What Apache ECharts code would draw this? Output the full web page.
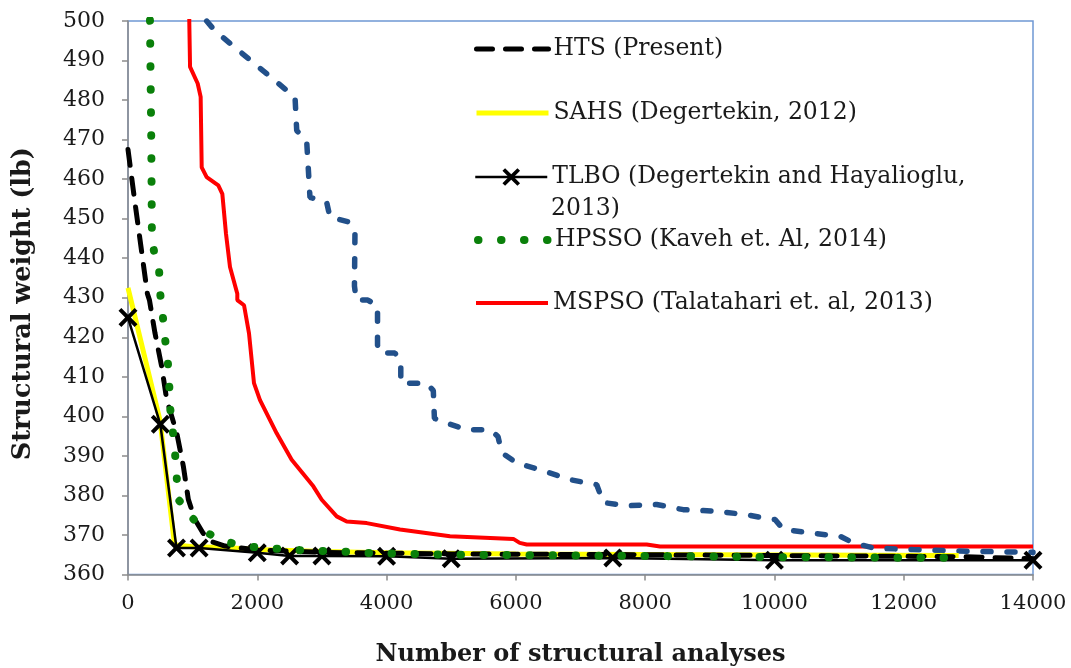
<!DOCTYPE html>
<html>
<head>
<meta charset="utf-8">
<script src="https://cdn.jsdelivr.net/npm/echarts@6/dist/echarts.min.js"></script>
<style>
html,body{margin:0;padding:0;background:#fff;}
#chart{width:1071px;height:668px;}
</style>
</head>
<body>
<div id="chart"></div>
<script>
// ---- Data (x = number of structural analyses, y = structural weight in lb) ----
const xTicks = [0, 2000, 4000, 6000, 8000, 10000, 12000, 14000];
const yTicks = [360, 370, 380, 390, 400, 410, 420, 430, 440, 450, 460, 470, 480, 490, 500];

const seriesNames = [
  'HTS (Present)',
  'SAHS (Degertekin, 2012)',
  'TLBO (Degertekin and Hayalioglu,',
  'HPSSO (Kaveh et. Al, 2014)',
  'MSPSO (Talatahari et. al, 2013)'
];
const legendContinuation = '2013)';

const htsData = [[0,467.5],[100,455],[200,443],[300,431],[332,429.4],[418,421],[521,412.6],[599,404.2],[754,395.8],[856,387.4],[933,379],[1036,373.9],[1160,370.5],[1300,368.3],[1500,367.2],[2000,366.2],[3000,365.6],[5000,365.2],[8000,365],[11000,364.7],[12900,364.5],[14000,364]];

const sahsData = [[0,432.5],[495,399],[720,367.5],[1000,367],[1500,366.8],[2000,366.3],[3000,365.8],[4000,365.5],[6000,365.2],[9000,365],[12850,364.8]];

const tlboData = [[0,425],[500,398],[750,366.7],[1100,366.7],[2000,365.5],[2500,364.7],[3000,364.7],[4000,364.6],[5000,364],[7500,364.2],[10000,363.6],[14000,363.6]];

const hpssoData = [[330,506],[340,500],[360,470],[370,445],[420,440],[480,437.5],[495,431.5],[537,425.6],[572,419.8],[615,414],[637,408.4],[650,402.4],[691,396.6],[727,390.8],[753,385],[769,379.2],[959,375.1],[1156,371.1],[1470,368.5],[1810,367.1],[2150,366.7],[2500,366.3],[2850,366],[3200,365.9],[3600,365.5],[5000,365],[8000,364.7],[10000,364.4],[12850,364.2]];

const mspsoData = [[948,502],[948,500],[960,488.4],[1078,484.2],[1124,480.8],[1140,463],[1217,460.5],[1397,458.4],[1459,456.3],[1516,446.2],[1578,437.8],[1691,431],[1691,429.4],[1795,428.1],[1872,421],[1949,408.4],[2042,404.1],[2300,395.7],[2532,389],[2867,382.3],[2997,378.9],[3229,374.7],[3383,373.4],[3693,373],[4208,371.4],[4981,369.7],[5961,369],[6060,368],[6168,367.6],[8024,367.6],[8230,367.1],[14000,367.1]];

const otherData = [[1217,500],[1346,497.5],[2584,480.7],[2610,472.3],[2764,469.7],[2815,455.4],[3073,454.2],[3124,450.4],[3434,449.1],[3511,446.3],[3503,433],[3530,429.4],[3710,429.4],[3860,428],[3860,418],[3898,416],[4130,416],[4220,414],[4220,408.4],[4620,408.4],[4723,406.5],[4740,399.5],[4928,398.3],[5240,396.6],[5600,396.6],[5724,394.9],[5781,390.8],[6013,388.2],[6374,386.5],[6838,384],[7251,382.7],[7353,378.2],[7714,377.4],[8178,377.7],[8590,376.4],[9107,376],[9571,375.1],[9828,374.3],[10009,373.9],[10138,371.4],[10654,370.3],[11014,369.7],[11220,368],[11530,366.7],[12144,366.3],[12974,365.9],[14000,365.6]];

// ---- Chart ----
const FONT = 'DejaVu Serif';
const TXT = '#1a1a1a';
const X_PATH = 'path://M3,0 L10,7 L17,0 L20,3 L13,10 L20,17 L17,20 L10,13 L3,20 L0,17 L7,10 L0,3 Z';
const chart = echarts.init(document.getElementById('chart'), null, {renderer: 'canvas'});

function legendFor(name, centerY, hideSymbol) {
  const item = {name: name};
  if (hideSymbol) {
    item.itemStyle = {color: 'rgba(0,0,0,0)', borderColor: 'rgba(0,0,0,0)', borderWidth: 0, opacity: 0};
  }
  return {
    data: [item],
    left: 474,
    top: centerY - 10,
    padding: 0,
    itemWidth: 72,
    itemHeight: 22,
    itemGap: 0,
    selectedMode: false,
    lineStyle: {width: 'inherit', type: 'inherit', cap: 'inherit'},
    textStyle: {fontFamily: FONT, fontSize: 23.5, color: TXT, padding: [0,0,0,0]}
  };
}

const option = {
  backgroundColor: '#ffffff',
  animation: false,
  grid: {
    left: 128, top: 21, width: 905, height: 553.5,
    outerBoundsMode: 'none', containLabel: false,
    show: true, borderColor: '#6f98d4', borderWidth: 1.5, backgroundColor: 'transparent'
  },
  legend: [
    legendFor(seriesNames[0], 47, true),
    legendFor(seriesNames[1], 111, true),
    legendFor(seriesNames[2], 175, false),
    legendFor(seriesNames[3], 238, true),
    legendFor(seriesNames[4], 301, true)
  ],
  graphic: [{
    type: 'text', left: 551, top: 197,
    style: {text: legendContinuation, font: '23.5px "DejaVu Serif"', fill: TXT}
  }],
  xAxis: {
    type: 'value', min: xTicks[0], max: xTicks[xTicks.length-1], interval: 2000,
    name: 'Number of structural analyses', nameLocation: 'middle', nameGap: 68,
    nameTextStyle: {fontFamily: FONT, fontSize: 24, fontWeight: 'bold', color: TXT},
    axisLine: {show: true, onZero: false, lineStyle: {color: '#8c8c8c', width: 1.5}},
    axisTick: {show: true, inside: false, length: 6, lineStyle: {color: '#8c8c8c', width: 1.5}},
    axisLabel: {fontFamily: FONT, fontSize: 21, color: TXT, margin: 19, formatter: function (v) { return String(v); }},
    splitLine: {show: false}
  },
  yAxis: {
    type: 'value', min: yTicks[0], max: yTicks[yTicks.length-1], interval: 10,
    name: 'Structural weight (lb)', nameLocation: 'middle', nameGap: 92, nameRotate: 90,
    nameTextStyle: {fontFamily: FONT, fontSize: 25.5, fontWeight: 'bold', color: TXT, padding: [0, 12, 0, 0]},
    axisLine: {show: true, onZero: false, lineStyle: {color: '#8c8c8c', width: 1.5}},
    axisTick: {show: true, inside: false, length: 6, lineStyle: {color: '#8c8c8c', width: 1.5}},
    axisLabel: {fontFamily: FONT, fontSize: 22, color: TXT, margin: 23, formatter: function (v) { return String(v); }},
    splitLine: {show: false}
  },
  series: [
    {
      name: seriesNames[4], type: 'line', data: mspsoData, symbol: 'none', z: 2,
      lineStyle: {color: '#ff0000', width: 4}, itemStyle: {color: '#ff0000'}
    },
    {
      name: 'other', type: 'line', data: otherData, symbol: 'none', z: 3,
      lineStyle: {color: '#22508a', width: 5.5, type: [8, 16], cap: 'round'}, itemStyle: {color: '#22508a'}
    },
    {
      name: seriesNames[1], type: 'line', data: sahsData, symbol: 'none', z: 4,
      lineStyle: {color: '#ffff00', width: 5}, itemStyle: {color: '#ffff00'}
    },
    {
      name: seriesNames[2], type: 'line', data: tlboData, symbol: X_PATH, symbolSize: 19, showSymbol: true, z: 5,
      lineStyle: {color: '#000000', width: 2.5}, itemStyle: {color: '#000000'}
    },
    {
      name: seriesNames[0], type: 'line', data: htsData, symbol: 'none', z: 6,
      lineStyle: {color: '#000000', width: 5, type: [16, 13], cap: 'round'}, itemStyle: {color: '#000000'}
    },
    {
      name: seriesNames[3], type: 'line', data: hpssoData, symbol: 'none', z: 7,
      lineStyle: {color: '#0a800a', width: 8, type: [0.5, 22.5], cap: 'round'}, itemStyle: {color: '#0a800a'}
    }
  ]
};
chart.setOption(option);
</script>
</body>
</html>
